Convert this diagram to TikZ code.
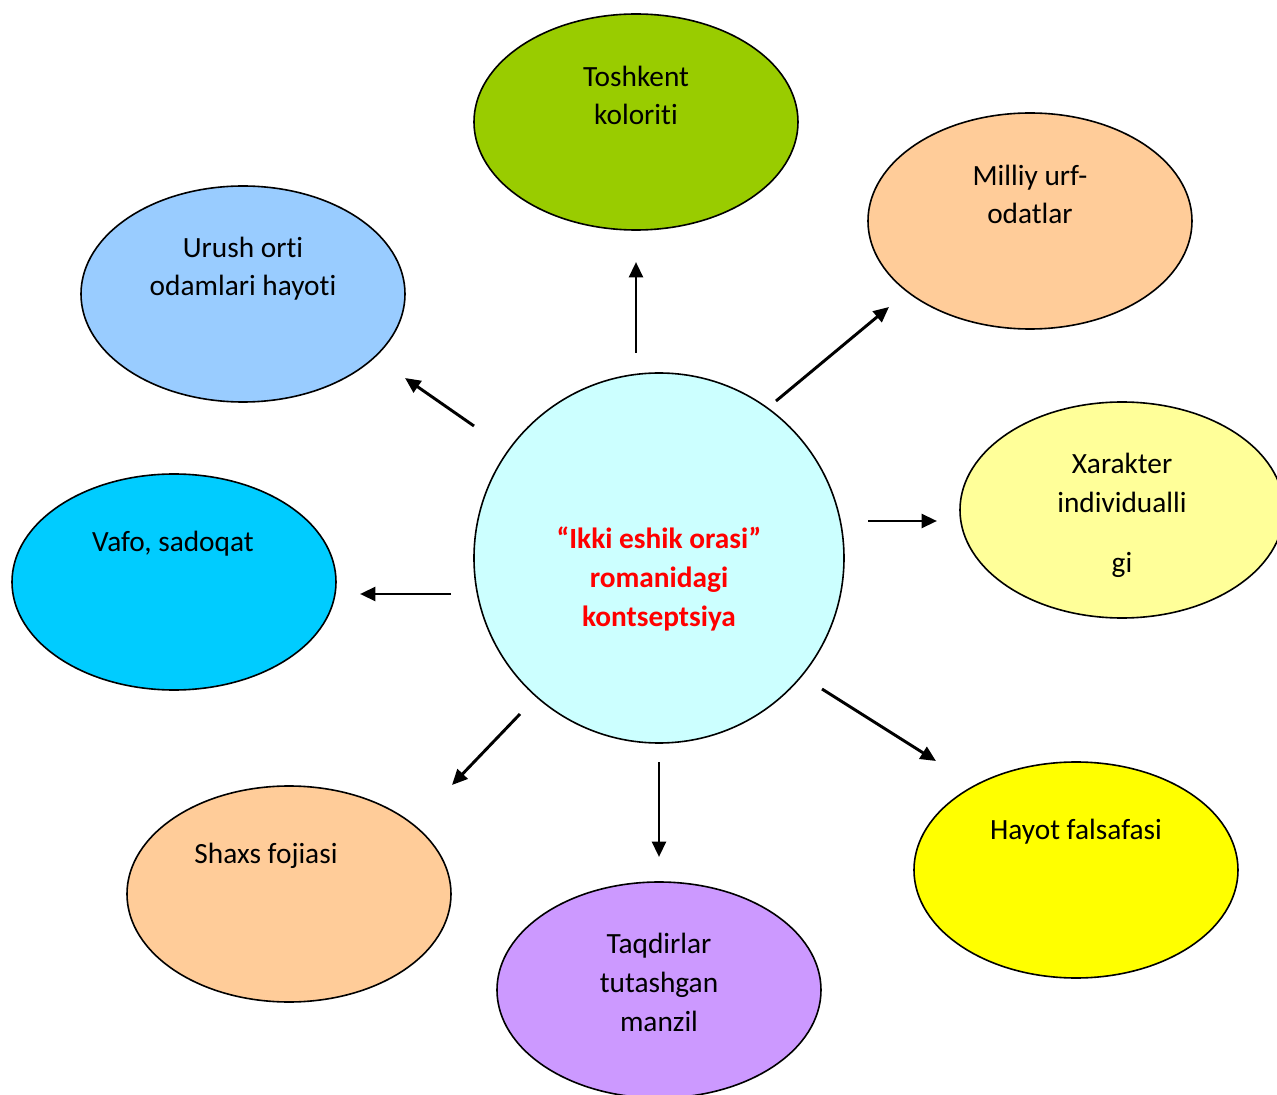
\documentclass[tikz,border=0pt]{standalone}
\usepackage{fontspec}
\setmainfont{Carlito}[Ligatures=NoCommon]
\usepackage{tikz}
\usepackage{xcolor}
\usetikzlibrary{shapes.geometric}
\usetikzlibrary{arrows.meta}

\definecolor{cgreen}{HTML}{99CC00}
\definecolor{cpeach}{HTML}{FFCC99}
\definecolor{cblue}{HTML}{99CCFF}
\definecolor{cpaleyel}{HTML}{FFFF99}
\definecolor{ccyan}{HTML}{00CCFF}
\definecolor{cpalecyan}{HTML}{CCFFFF}
\definecolor{clilac}{HTML}{CC99FF}
\definecolor{cyel}{HTML}{FFFF00}

\begin{document}
\begin{tikzpicture}
	[x=0.375pt, y=-0.375pt,
	main/.style = {draw, ellipse, line width=0.6pt, minimum width=121.5pt, minimum height=81pt, inner sep=0pt},
	hub/.style = {draw, circle, line width=0.6pt, minimum size=138.75pt, inner sep=0pt, fill=cpalecyan},
	lbl/.style = {anchor=base, align=center, inner sep=0pt, font=\fontsize{11pt}{14.6pt}\selectfont},
	arr/.style = {line width=1.1pt, -{Triangle[length=5.8pt, width=5.2pt]}}]
	\useasboundingbox (0,0) rectangle (1277,1095);
	% ellipses
	\node[main, fill=cgreen] (1) at (636,122) {};
	\node[main, fill=cpeach] (2) at (1030,221) {};
	\node[main, fill=cblue] (3) at (243,294) {};
	\node[main, fill=cpaleyel] (4) at (1122,510) {};
	\node[main, fill=ccyan] (5) at (174,582) {};
	\node[main, fill=cpeach] (6) at (289,894) {};
	\node[main, fill=clilac] (7) at (659,990) {};
	\node[main, fill=cyel] (8) at (1076,870) {};
	\node[hub] (0) at (659,558) {};
	% texts (base = last line)
	\node[lbl] (t1) at (636,125) {Toshkent\\koloriti};
	\node[lbl] (t2) at (1030,224) {Milliy urf-\\odatlar};
	\node[lbl] (t3) at (243,296) {Urush orti\\odamlari hayoti};
	\node[lbl] (t4) at (1122,573) {Xarakter\\individualli\\[8pt]gi};
	\node[lbl] (t5) at (173,551) {Vafo, sadoqat};
	\node[lbl] (t6) at (266,863) {Shaxs fojiasi};
	\node[lbl] (t7) at (659,1031) {Taqdirlar\\tutashgan\\manzil};
	\node[lbl] (t8) at (1076,839) {Hayot falsafasi};
	\node[lbl, text=red, font=\fontsize{11pt}{14.6pt}\selectfont\bfseries] (t0) at (659,626) {“Ikki eshik orasi”\\romanidagi\\kontseptsiya};
	% arrows
	\coordinate (a1) at (636,353); \coordinate (b1) at (636,262);
	\coordinate (a2) at (776,401); \coordinate (b2) at (889,307);
	\coordinate (a3) at (474,426); \coordinate (b3) at (405,378);
	\coordinate (a4) at (868,521); \coordinate (b4) at (937,521);
	\coordinate (a5) at (451,594); \coordinate (b5) at (360,594);
	\coordinate (a6) at (520,714); \coordinate (b6) at (452,785);
	\coordinate (a7) at (659,762); \coordinate (b7) at (659,857);
	\coordinate (a8) at (822,689); \coordinate (b8) at (936,761);
	\foreach \i in {1,...,8}
		\draw[arr] (a\i) -- (b\i);
\end{tikzpicture}
\end{document}
